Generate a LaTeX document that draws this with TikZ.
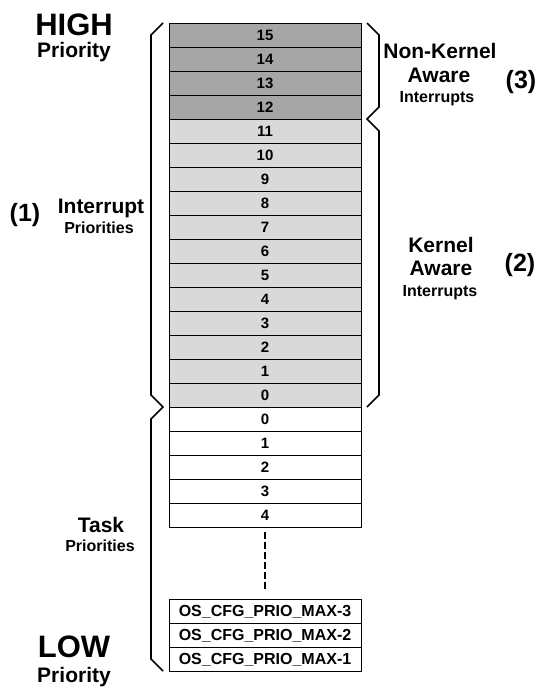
\documentclass[tikz,border=0pt]{standalone}
\usepackage{fontspec}
\setmainfont{Liberation Sans}
\usetikzlibrary{positioning}

\definecolor{nkprio}{HTML}{A6A6A6}
\definecolor{kaprio}{HTML}{D9D9D9}

\begin{document}
\begin{tikzpicture}[x=1pt, y=-1pt,
    prio/.style={draw, line width=0.8pt, minimum width=192pt, minimum height=24pt, inner sep=0pt, text depth=0pt, font=\fontsize{15}{15}\selectfont\bfseries},
    big/.style={anchor=base, font=\fontsize{31}{31}\selectfont\bfseries},
    mid/.style={anchor=base, font=\fontsize{21}{21}\selectfont\bfseries},
    small/.style={anchor=base, font=\fontsize{16}{16}\selectfont\bfseries},
    tag/.style={font=\fontsize{25}{25}\selectfont\bfseries},
    brace/.style={line width=1.6pt, line join=miter},
    gapline/.style={line width=2.4pt, dash pattern=on 7pt off 3pt, shorten <=5pt, shorten >=7pt}
  ]
    \useasboundingbox (0,0) rectangle (542,688);

    % interrupt priorities 15..0
    \foreach \p in {15,...,12}
      \node[prio, fill=nkprio] (i\p) at (265,{35+24*(15-\p)}) {\p};
    \foreach \p in {11,...,0}
      \node[prio, fill=kaprio] (i\p) at (265,{35+24*(15-\p)}) {\p};

    % task priorities
    \foreach \p in {0,...,4}
      \node[prio, fill=white] (t\p) at (265,{419+24*\p}) {\p};

    \node[prio, font=\fontsize{16}{16}\selectfont\bfseries] (m3) at (265,611) {OS\_CFG\_PRIO\_MAX-3};
    \node[prio, font=\fontsize{16}{16}\selectfont\bfseries] (m2) at (265,635) {OS\_CFG\_PRIO\_MAX-2};
    \node[prio, font=\fontsize{16}{16}\selectfont\bfseries] (m1) at (265,659) {OS\_CFG\_PRIO\_MAX-1};

    \draw[gapline] (t4) -- (m3);

    % brackets
    \draw[brace] (163,23) -- (151,35) -- (151,395) -- (163,407) -- (151,419) -- (151,659) -- (163,671);
    \draw[brace] (367,23) -- (379,35) -- (379,107) -- (367,119) -- (379,131) -- (379,395) -- (367,407);

    % labels
    \node[big] (high) at (74,35) {HIGH};
    \node[mid] (highp) at (74,57) {Priority};
    \node[big] (low) at (74,657) {LOW};
    \node[mid] (lowp) at (74,682) {Priority};

    \node[tag] (n1) at (25,215) {(1)};
    \node[mid] (irq) at (101,213) {Interrupt};
    \node[small] (irqp) at (99,233) {Priorities};

    \node[mid] (task) at (101,532) {Task};
    \node[small] (taskp) at (100,551) {Priorities};

    \node[mid] (nk) at (440,58) {Non-Kernel};
    \node[mid] (nka) at (439,82) {Aware};
    \node[small] (nki) at (437,102) {Interrupts};
    \node[tag] (n3) at (521,82) {(3)};

    \node[mid] (ka) at (441,252) {Kernel};
    \node[mid] (kaa) at (441,275) {Aware};
    \node[small] (kai) at (440,296) {Interrupts};
    \node[tag] (n2) at (520,265) {(2)};
\end{tikzpicture}
\end{document}
